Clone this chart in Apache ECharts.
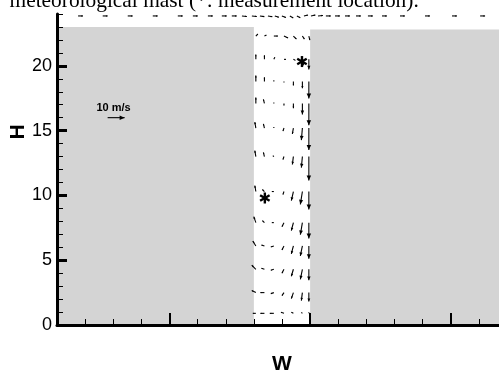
<!DOCTYPE html>
<html>
<head>
<meta charset="utf-8">
<script src="https://cdn.jsdelivr.net/npm/echarts@6/dist/echarts.min.js"></script>
<style>
  html, body { margin: 0; padding: 0; background: #fff; }
  #main { width: 499px; height: 373px; }
</style>
</head>
<body>
<div id="main"></div>
<script>
// buildings: [xStart, xEnd, height]
var buildings = [[-14, 0, 23], [4, 18, 22.8]];

// canyon vector grid, u/v in m/s (v positive = up)
var canyonX = [0.14, 0.75, 1.42, 2.14, 2.81, 3.45, 3.91];
var canyonY = [22.3, 20.5, 18.8, 17.1, 15.2, 13.0, 10.3, 7.9, 6.1, 4.3, 2.5, 0.9];
var canyonU = [
  [1.2, 1.2, 2.4, 2.4, 1.8, 1.2, 0.6],
  [0, 0, 0.6, 1.2, 1.2, 0.6, 0],
  [0, 0, 0, 0, 0, 0, 0],
  [0, -0.6, 0, 0, 0, 0, 0],
  [-0.6, -0.6, 0, -0.6, -0.6, -0.6, 0],
  [-0.6, -0.6, -0.6, -0.6, -0.6, -0.6, 0],
  [-0.6, -1.2, -1.2, -0.6, -1.2, -1.2, 0],
  [-1.2, -1.2, -1.2, -1.2, -1.2, -1.2, 0],
  [-1.8, -1.8, -1.8, -1.2, -1.2, -1.2, 0],
  [-2.4, -1.8, -1.8, -1.2, -1.2, -1.2, 0],
  [-2.4, -2.4, -1.8, -1.2, -1.2, -0.6, 0],
  [-1.8, -2.4, -2.4, -1.8, -1.2, -0.6, 0]
];
var canyonV = [
  [1.2, 0.6, 0, -1.2, -1.8, -1.8, -2.4],
  [2.9, 2.4, 1.2, 0, -0.6, -3.5, -5.9],
  [3.5, 2.4, 0.6, -0.6, -2.4, -4.1, -10],
  [3.5, 2.4, 0.6, -1.2, -2.9, -6.5, -12.9],
  [3.5, 2.4, 0.6, -1.8, -3.5, -7.1, -12.9],
  [3.5, 2.4, 0.6, -1.8, -4.7, -6.5, -14.1],
  [3.5, 1.2, 0, -1.8, -5.3, -7.6, -10.6],
  [3.5, 1.2, 0, -2.4, -4.7, -7.1, -9.4],
  [2.9, 0.6, -0.6, -2.4, -4.7, -5.9, -7.6],
  [2.4, 0.6, -0.6, -2.4, -4.1, -5.9, -6.5],
  [1.2, 0, -0.6, -1.8, -3.5, -4.7, -5.3],
  [0, 0, 0, 0.6, 0.6, 0.6, 0.6]
];

// vectors along the top boundary
var topY = 23.85;
var topX = [-12.5, -10.75, -8.97, -7.19, -5.41, -4.34, -3.27, -2.28, -1.57, -0.85, -0.14, 0.43, 1.0, 1.49, 1.99,
            2.56, 3.06, 3.56, 4.06, 4.56, 5.12, 5.77, 6.48, 7.26, 8.11, 9.11, 10.39, 12.17, 14.09, 16.09];
var topU = [2.9, 2.9, 2.9, 2.9, 2.9, 2.9, 2.9, 2.9, 2.9, 2.9, 2.9, 2.6, 2.6, 2.4, 2.4,
            2.0, 2.0, 2.4, 2.6, 2.9, 2.9, 2.9, 2.9, 2.9, 2.9, 2.9, 2.9, 2.9, 2.9, 2.9];
var topV = [0, 0, 0, 0, 0, 0, 0, 0, 0, -0.3, -0.3, -0.4, -0.5, -0.8, -0.9,
            -1.2, -1.0, 0.6, 0.6, 0.3, 0, 0, 0, 0, 0, 0, 0, 0, 0, 0];

// reference arrow (10 m/s) and measurement points
var refArrow = [-10.4, 16, 10, 0];
var masts = [[3.42, 20.33], [0.78, 9.8]];

var yLabels = [0, 5, 10, 15, 20];
var xMajorTicks = [-6, 4, 14];

var vectors = [];
canyonY.forEach(function (y, i) {
  canyonX.forEach(function (x, j) {
    vectors.push([x, y, canyonU[i][j], canyonV[i][j]]);
  });
});
topX.forEach(function (x, k) {
  vectors.push([x, topY, topU[k], topV[k]]);
});
vectors.push(refArrow);

var VEC_SCALE = 1.7; // px per m/s
var sans = "'Liberation Sans', Arial, sans-serif";

function renderBuilding(params, api) {
  var p0 = api.coord([api.value(0), api.value(2)]);
  var p1 = api.coord([api.value(1), 0]);
  return {
    type: 'rect',
    shape: { x: p0[0], y: p0[1], width: p1[0] - p0[0], height: p1[1] - p0[1] },
    style: { fill: '#d4d4d4' }
  };
}

function renderArrow(params, api) {
  var p = api.coord([api.value(0), api.value(1)]);
  var dx = api.value(2) * VEC_SCALE;
  var dy = -api.value(3) * VEC_SCALE;
  var len = Math.sqrt(dx * dx + dy * dy);
  var children = [{
    type: 'line',
    shape: { x1: p[0], y1: p[1], x2: p[0] + dx, y2: p[1] + dy },
    style: { stroke: '#000', lineWidth: 1.1 }
  }];
  if (len > 2) {
    var ux = dx / len, uy = dy / len;
    var h = Math.min(5, len * 0.35), w = h * 0.45;
    var tx = p[0] + dx, ty = p[1] + dy;
    var bx = tx - ux * h, by = ty - uy * h;
    children.push({
      type: 'polygon',
      shape: { points: [[tx, ty], [bx - uy * w, by + ux * w], [bx + uy * w, by - ux * w]] },
      style: { fill: '#000' }
    });
  }
  return { type: 'group', children: children };
}

function renderStar(params, api) {
  var p = api.coord([api.value(0), api.value(1)]);
  var r = 5.5;
  var children = [];
  [90, 30, 150].forEach(function (a) {
    var rad = a * Math.PI / 180;
    children.push({
      type: 'line',
      shape: { x1: p[0] - r * Math.cos(rad), y1: p[1] - r * Math.sin(rad), x2: p[0] + r * Math.cos(rad), y2: p[1] + r * Math.sin(rad) },
      style: { stroke: '#000', lineWidth: 2.4 }
    });
  });
  return { type: 'group', children: children };
}

var chart = echarts.init(document.getElementById('main'), null, { renderer: 'canvas' });
var option = {
  backgroundColor: '#fff',
  animation: false,
  grid: { left: 57, right: -8, top: 14, bottom: 48, outerBoundsMode: 'none', containLabel: false },
  graphic: [
    {
      type: 'text', left: 9.5, top: -9.5,
      style: { text: 'meteorological mast (*: measurement location).', font: '21.4px "Liberation Serif", "Times New Roman", serif', fill: '#000' }
    },
    {
      type: 'text', x: 113.5, y: 108,
      style: { text: '10 m/s', font: 'bold 11px ' + sans, fill: '#000', align: 'center', verticalAlign: 'middle' }
    },
    {
      type: 'text', x: 18.5, y: 132, rotation: Math.PI / 2,
      style: { text: 'H', font: 'bold 21px ' + sans, fill: '#000', align: 'center', verticalAlign: 'middle' }
    }
  ],
  xAxis: [
    {
      type: 'value', min: -14, max: 18, interval: 2,
      name: 'W', nameLocation: 'middle', nameGap: 29,
      nameTextStyle: { fontSize: 21, fontWeight: 'bold', color: '#000', fontFamily: sans },
      axisLine: { onZero: false, lineStyle: { color: '#000', width: 3 } },
      axisTick: { inside: true, length: 6, lineStyle: { color: '#000', width: 1 } },
      axisLabel: { show: false },
      splitLine: { show: false }
    },
    {
      type: 'value', min: -14, max: 18, position: 'bottom',
      axisLine: { show: false, onZero: false },
      axisTick: { inside: true, length: 12, customValues: xMajorTicks, lineStyle: { color: '#000', width: 2 } },
      axisLabel: { show: false },
      splitLine: { show: false }
    }
  ],
  yAxis: [
    {
      type: 'value', min: 0, max: 24,
      axisLine: { onZero: false, lineStyle: { color: '#000', width: 3 } },
      axisTick: { inside: true, length: 10, customValues: yLabels, lineStyle: { color: '#000', width: 3 } },
      axisLabel: { customValues: yLabels, margin: 5, fontSize: 18, color: '#000', fontFamily: sans },
      splitLine: { show: false }
    },
    {
      type: 'value', min: 0, max: 24, interval: 1, position: 'left',
      axisLine: { show: false, onZero: false },
      axisTick: { inside: true, length: 6, lineStyle: { color: '#000', width: 1 } },
      axisLabel: { show: false },
      splitLine: { show: false }
    }
  ],
  series: [
    {
      type: 'custom', z: -1, silent: true,
      renderItem: renderBuilding,
      encode: { x: [0, 1], y: 2 },
      data: buildings
    },
    {
      type: 'custom', z: 3, silent: true,
      renderItem: renderArrow,
      encode: { x: 0, y: 1 },
      data: vectors
    },
    {
      type: 'custom', z: 4, silent: true,
      renderItem: renderStar,
      encode: { x: 0, y: 1 },
      data: masts
    }
  ]
};
chart.setOption(option);
</script>
</body>
</html>
